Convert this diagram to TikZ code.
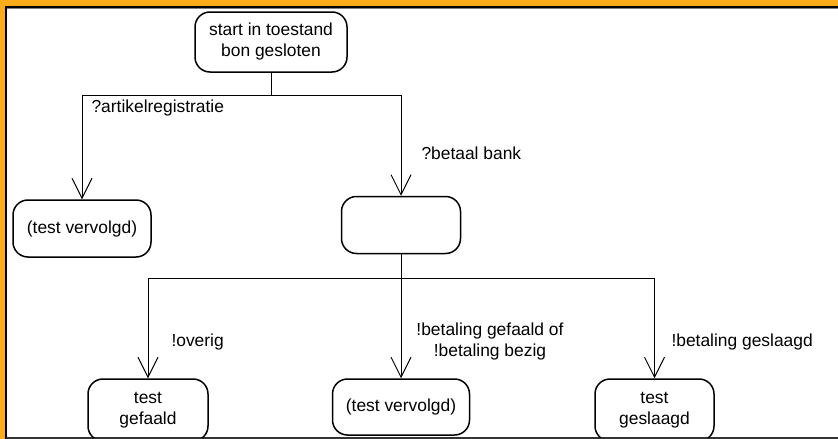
\documentclass[tikz,border=0pt]{standalone}
\usepackage{fontspec}
\setmainfont{Liberation Sans}
\usetikzlibrary{arrows.meta}
\definecolor{frameorange}{RGB}{253,173,26}

\begin{document}
\begin{tikzpicture}[x=1pt,y=-1pt,
    every node/.append style={align=center,font=\fontsize{17.4}{21}\selectfont},
    state/.style={draw,line width=1.5pt,rounded corners=15pt,inner sep=0pt},
    flow/.style={line width=1pt},
    arr/.style={flow,-{Straight Barb[length=20pt,width=20pt]}}]
    \useasboundingbox (0,0) rectangle (838,439);
    % frame
    \fill[frameorange] (0,0) rectangle (838,6);
    \fill[frameorange] (0,0) rectangle (5,439);
    \draw[gray,line width=1pt] (7,8.5) -- (838,8.5);
    \draw[line width=2pt] (6,439) -- (6,7) -- (838,7);
    \draw[black!80,line width=2pt] (6,438) -- (838,438);
    \begin{scope}
      \clip (7,8) rectangle (838,437);
      \node[state,minimum width=152pt,minimum height=60pt] (start) at (271,42) {start in toestand\\bon gesloten};
      \node[state,minimum width=138pt,minimum height=57pt] (regtest) at (82,228.5) {(test vervolgd)};
      \node[state,minimum width=119pt,minimum height=57pt] (bank) at (401,225) {};
      \node[state,minimum width=120pt,minimum height=62pt] (fail) at (148,410) {test\\gefaald};
      \node[state,minimum width=137pt,minimum height=56pt] (cont) at (401,407) {(test vervolgd)};
      \node[state,minimum width=119pt,minimum height=62pt] (pass) at (654.5,410) {test\\geslaagd};
    \end{scope}
    % transitions
    \draw[flow] (start.south) -- ++(0,23) coordinate (split1);
    \draw[arr] (split1) -| (regtest.north);
    \draw[arr] (split1) -| (bank.north);
    \draw[flow] (bank.south) -- ++(0,24) coordinate (split2);
    \draw[arr] (split2) -| (fail.north);
    \draw[arr] (split2) -- (cont.north);
    \draw[arr] (split2) -| (pass.north);
    % labels
    \node[anchor=west] (lreg)  at (88,108)  {?artikelregistratie};
    \node[anchor=west] (lbank) at (418,153) {?betaal bank};
    \node[anchor=west] (lfail) at (168,342) {!overig};
    \node (lcont) at (490,341) {!betaling gefaald of\\!betaling bezig};
    \node[anchor=west] (lpass) at (668,342) {!betaling geslaagd};
\end{tikzpicture}
\end{document}
